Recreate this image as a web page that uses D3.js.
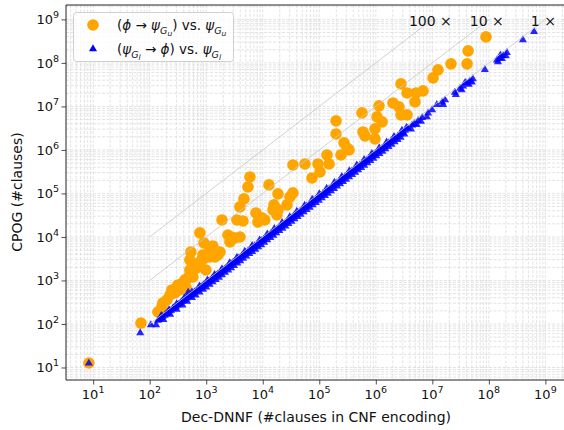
<!DOCTYPE html>
<html>
<head>
<meta charset="utf-8">
<script src="https://cdn.jsdelivr.net/npm/d3@7"></script>
<style>
body { margin: 0; background: #fff; }
svg { font-family: "DejaVu Sans", sans-serif; }
</style>
</head>
<body>
<script>
// [Dec-DNNF clauses, CPOG clauses]
const upperPoints = [
    [8.4, 12.7], [70, 105], [140, 189], [164, 246], [171, 304], [201, 357], [228, 464], [247, 605],
    [279, 516], [316, 789], [343, 605], [387, 877], [420, 1030], [437, 710], [474, 1140], [514, 1340],
    [582, 1200], [558, 1570], [514, 1740], [631, 2040], [684, 1940], [713, 2270], [773, 2660],
    [839, 2960], [514, 2960], [536, 4520], [874, 3860], [948, 3290], [989, 1740], [1030, 3860],
    [1160, 3470], [1310, 4290], [1430, 3470], [1610, 3860], [1750, 4520], [1160, 5590], [1310, 6210],
    [911, 7280], [773, 12400], [1900, 24600], [2420, 11100], [2740, 10000], [3220, 9490], [3950, 10000],
    [2630, 7670], [3490, 24600], [4470, 23300], [3950, 49000], [4650, 74800], [5470, 141000],
    [5930, 239000], [7590, 35600], [8230, 22100], [9680, 27400], [10900, 24600], [12900, 157000],
    [18600, 97500], [15800, 54500], [15200, 41800], [18600, 41800], [17800, 32100], [26800, 54500],
    [30300, 83200], [34200, 103000], [34200, 452000], [55800, 476000], [74300, 227000], [94800, 476000],
    [103000, 312000], [137000, 767000], [149000, 476000], [198000, 4.64e6], [198000, 2.33e6],
    [242000, 767000], [274000, 1.45e6], [309000, 1.11e6], [336000, 1.0e6], [570000, 7.1e6],
    [593000, 2.59e6], [644000, 2.1e6], [968000, 3.04e6], [968000, 1.79e6], [1.05e6, 5.74e6],
    [1.14e6, 1.03e7], [1.29e6, 4.41e6], [2.01e6, 1.2e7], [2.57e6, 9.75e6], [2.79e6, 6.38e6],
    [3.57e6, 6.38e6], [2.79e6, 3.29e7], [3.57e6, 2.04e7], [5.15e6, 2.04e7], [6.84e6, 2.27e7],
    [4.94e6, 1.27e7], [1.03e7, 4.52e7], [1.26e7, 6.9e7], [2.14e7, 9.5e7], [4.11e7, 9.5e7],
    [4.29e7, 1.89e8], [8.9e7, 3.96e8]
]

const lowerPoints = [
    [8.4, 12.5], [68, 62], [105, 95],
    [140, 120], [150, 128], [160, 140], [170, 150], [185, 158], [195, 170], [210, 180], [225, 200],
    [240, 205], [255, 225], [270, 240], [290, 250], [310, 270], [330, 285], [350, 305], [375, 330],
    [400, 345], [420, 370], [450, 390], [480, 530], [480, 420], [510, 440], [540, 470], [580, 500],
    [620, 540], [660, 570], [700, 610], [750, 650], [800, 690], [850, 740], [900, 780], [960, 830],
    [1030, 880], [1100, 950], [1180, 1000], [1250, 1080], [1330, 1150], [1420, 1220], [1500, 1300],
    [1600, 1380], [1700, 1450], [1800, 1550], [1950, 1650], [2100, 1800], [2250, 1950], [2400, 2050],
    [2600, 2200], [2800, 2400], [3000, 2600], [3200, 2750], [3450, 2950], [3700, 3200], [4000, 3400],
    [4300, 3700], [4600, 3900], [5000, 4300], [5400, 4600], [5800, 5000], [6200, 5300], [6700, 5700],
    [7200, 6200], [7800, 6600], [8400, 7200], [9000, 7700], [9600, 8200],
    [10400, 8800], [11200, 9500], [12000, 10300], [13000, 11000], [14000, 12000], [15000, 12800],
    [16500, 14000], [18000, 15300], [19500, 16500], [21000, 18000], [23000, 19500], [25000, 21000],
    [27000, 23000], [29000, 25000], [32000, 27000], [35000, 30000], [38000, 32000], [42000, 36000],
    [46000, 39000], [50000, 43000], [55000, 47000], [60000, 51000], [66000, 56000], [72000, 61000],
    [80000, 68000], [88000, 75000], [96000, 82000],
    [105000, 89000], [115000, 98000], [125000, 106000], [138000, 117000], [150000, 128000],
    [165000, 140000], [180000, 153000], [200000, 170000], [220000, 187000], [240000, 204000],
    [260000, 222000], [285000, 242000], [310000, 264000], [340000, 289000], [370000, 315000],
    [400000, 340000], [440000, 374000], [480000, 408000], [520000, 442000], [570000, 485000],
    [620000, 527000], [680000, 578000], [750000, 637000], [820000, 697000], [900000, 765000],
    [980000, 833000],
    [1.08e6, 0.92e6], [1.18e6, 1.0e6], [1.3e6, 1.1e6], [1.42e6, 1.2e6], [1.55e6, 1.32e6],
    [1.7e6, 1.45e6], [1.85e6, 1.57e6], [2.0e6, 1.7e6], [2.2e6, 1.87e6], [2.45e6, 2.08e6],
    [2.7e6, 2.3e6], [3.0e6, 2.5e6], [3.3e6, 2.8e6], [3.7e6, 3.1e6], [4.4e6, 3.7e6], [4.8e6, 4.0e6],
    [5.6e6, 4.7e6], [6.6e6, 5.5e6], [8.4e6, 7.0e6], [9.9e6, 8.3e6],
    [1.49e7, 1.25e7], [1.68e7, 1.4e7], [2.5e7, 2.1e7], [3.1e7, 2.6e7], [3.5e7, 2.9e7], [4.1e7, 3.4e7],
    [4.6e7, 3.8e7], [5.2e7, 4.3e7], [8.5e7, 7.0e7], [1.39e8, 1.15e8], [1.57e8, 1.3e8],
    [1.78e8, 1.47e8], [2.08e8, 1.72e8], [4.0e8, 3.38e8], [6.3e8, 5.2e8],
    // lower edge of the band
    [130, 95], [175, 125], [230, 165], [300, 215], [380, 270], [460, 330], [560, 400], [650, 460],
    [760, 540], [880, 620], [1000, 700], [1150, 810], [1300, 920], [1480, 1040], [1680, 1180],
    [1900, 1340], [2150, 1520], [2450, 1720], [2750, 1950], [3100, 2200], [3550, 2500], [4000, 2800],
    [4500, 3200], [5100, 3600], [5800, 4100], [6500, 4600], [7400, 5200], [8300, 5900], [9400, 6600],
    [10600, 7500], [12000, 8500], [13600, 9600], [15400, 10900], [17400, 12300], [19700, 13900],
    [22300, 15700], [25200, 17800], [28500, 20100], [32300, 22800], [36500, 25800], [41300, 29200],
    [46700, 33000], [52900, 37400], [59800, 42300], [67700, 47900], [76600, 54100], [86700, 61200],
    [98000, 69300], [111000, 78400], [126000, 88700], [142000, 100000], [161000, 114000],
    [182000, 129000], [206000, 146000], [233000, 165000], [263000, 186000], [298000, 211000],
    [337000, 238000], [381000, 270000], [431000, 305000], [488000, 345000], [552000, 390000],
    [625000, 442000], [707000, 500000], [800000, 565000], [905000, 640000], [1.02e6, 724000],
    [1.16e6, 819000], [1.31e6, 926000], [1.48e6, 1.05e6], [1.68e6, 1.19e6], [1.9e6, 1.34e6],
    [2.15e6, 1.52e6], [2.43e6, 1.72e6], [2.75e6, 1.94e6], [3.2e6, 2.3e6], [4.2e6, 3.0e6],
    [5.3e6, 3.8e6], [6.3e6, 4.5e6], [8.0e6, 5.7e6], [1.55e7, 1.1e7], [2.6e7, 1.85e7], [3.3e7, 2.4e7],
    [4.4e7, 3.2e7], [5.0e7, 3.6e7], [1.45e8, 1.05e8], [1.7e8, 1.25e8], [2.0e8, 1.45e8],
    // upper edge of the band
    [160, 155], [220, 212], [300, 290], [410, 400], [560, 545], [760, 740], [1050, 1020], [1400, 1360],
    [1900, 1850], [2600, 2520], [3500, 3400], [4800, 4650], [6500, 6300], [8800, 8500], [12000, 11600],
    [16000, 15500], [22000, 21300], [30000, 29000], [40000, 38800], [55000, 53000], [75000, 72500],
    [100000, 97000], [135000, 131000], [185000, 179000], [250000, 242000], [340000, 330000],
    [460000, 446000], [620000, 600000], [850000, 820000], [1.15e6, 1.11e6], [1.55e6, 1.5e6],
    [2.1e6, 2.03e6], [2.9e6, 2.8e6], [3.5e6, 3.3e6], [1.2e7, 1.1e7], [3.8e7, 3.5e7], [1.6e8, 1.5e8]
]

const ratios = [100, 10, 1]
const ratioLabels = ['100 ×', '10 ×', '1 ×']
const exponents = [1, 2, 3, 4, 5, 6, 7, 8, 9]

const W = 564, H = 430
const mLeft = 66, mRight = 568, mTop = 5, mBottom = 380

const svg = d3.select('body')
    .append('svg')
    .attr('width', W)
    .attr('height', H)

const x = d3.scaleLog()
    .domain([3.31, 2.51e9])
    .range([mLeft, mRight])

const y = d3.scaleLog()
    .domain([5.16, 2.14e9])
    .range([mBottom, mTop])

svg.append('defs').append('clipPath')
    .attr('id', 'plot')
    .append('rect')
    .attr('x', mLeft).attr('y', mTop)
    .attr('width', mRight - mLeft).attr('height', mBottom - mTop)

// minor + major values for grid and ticks
const minorX = [], minorY = []
for (let d = 0; d <= 9; d++) {
    for (let k = 1; k <= 9; k++) {
        const v = k * Math.pow(10, d)
        if (v >= x.domain()[0] && v <= x.domain()[1]) minorX.push(v)
        if (v >= y.domain()[0] && v <= y.domain()[1]) minorY.push(v)
    }
}
const majors = exponents.map(e => Math.pow(10, e))

const grid = svg.append('g').attr('clip-path', 'url(#plot)')
grid.selectAll('line.gx')
    .data(minorX)
    .enter()
    .append('line')
    .attr('x1', d => x(d)).attr('x2', d => x(d))
    .attr('y1', mTop).attr('y2', mBottom)
    .attr('stroke', '#dcdcdc')
    .attr('stroke-width', 0.8)
    .attr('stroke-dasharray', '3,1.5')
grid.selectAll('line.gy')
    .data(minorY)
    .enter()
    .append('line')
    .attr('y1', d => y(d)).attr('y2', d => y(d))
    .attr('x1', mLeft).attr('x2', mRight)
    .attr('stroke', '#dcdcdc')
    .attr('stroke-width', 0.8)
    .attr('stroke-dasharray', '3,1.5')

const plot = svg.append('g').attr('clip-path', 'url(#plot)')

plot.selectAll('circle')
    .data(upperPoints)
    .enter()
    .append('circle')
    .attr('cx', d => x(d[0]))
    .attr('cy', d => y(d[1]))
    .attr('r', 5.8)
    .attr('fill', '#ffa500')

const tri = d3.symbol().type(d3.symbolTriangle).size(28)
plot.selectAll('path.tri')
    .data(lowerPoints)
    .enter()
    .append('path')
    .attr('class', 'tri')
    .attr('d', tri)
    .attr('transform', d => `translate(${x(d[0])},${y(d[1])})`)
    .attr('fill', '#0000ff')
    .attr('fill-opacity', 0.85)

// ratio reference lines
plot.selectAll('line.ratio')
    .data(ratios)
    .enter()
    .append('line')
    .attr('x1', x(100))
    .attr('y1', d => y(100 * d))
    .attr('x2', d => x(1e9 / d))
    .attr('y2', y(1e9))
    .attr('stroke', '#c8c8c8')
    .attr('stroke-opacity', 0.85)
    .attr('stroke-width', 1)

svg.selectAll('text.ratio')
    .data(ratios)
    .enter()
    .append('text')
    .attr('x', d => x(1e9 / d) - 2)
    .attr('y', 26)
    .attr('text-anchor', 'middle')
    .attr('font-size', 14)
    .attr('fill', '#111')
    .text((d, i) => ratioLabels[i])

// axes
const xAxis = svg.append('g').attr('transform', `translate(0, ${mBottom})`)
xAxis.call(d3.axisBottom(x).tickValues(minorX).tickSize(2.5).tickFormat(''))
xAxis.call(d3.axisBottom(x).tickValues(majors).tickSize(4.5).tickFormat(''))
const yAxis = svg.append('g').attr('transform', `translate(${mLeft}, 0)`)
yAxis.call(d3.axisLeft(y).tickValues(minorY).tickSize(2.5).tickFormat(''))
yAxis.call(d3.axisLeft(y).tickValues(majors).tickSize(4.5).tickFormat(''))
svg.selectAll('.domain').remove()
svg.selectAll('.tick line').attr('stroke', '#222').attr('stroke-width', 0.8)

function powLabel(sel) {
    sel.append('tspan').text('10')
    sel.append('tspan')
        .attr('dy', -6)
        .attr('font-size', 9.5)
        .text(d => Math.round(Math.log10(d)))
}

svg.append('g').selectAll('text')
    .data(majors)
    .enter()
    .append('text')
    .attr('x', d => x(d))
    .attr('y', 399)
    .attr('text-anchor', 'middle')
    .attr('font-size', 13)
    .attr('fill', '#111')
    .call(powLabel)

svg.append('g').selectAll('text')
    .data(majors)
    .enter()
    .append('text')
    .attr('x', 59)
    .attr('y', d => y(d) + 5)
    .attr('text-anchor', 'end')
    .attr('font-size', 13)
    .attr('fill', '#111')
    .call(powLabel)

// frame
svg.append('path')
    .attr('d', `M${mRight},${mTop}H${mLeft}V${mBottom}H${mRight}`)
    .attr('fill', 'none')
    .attr('stroke', '#222')
    .attr('stroke-width', 1)

svg.append('text')
    .attr('x', 316)
    .attr('y', 422)
    .attr('text-anchor', 'middle')
    .attr('font-size', 14)
    .attr('fill', '#111')
    .text('Dec-DNNF (#clauses in CNF encoding)')

svg.append('text')
    .attr('transform', 'translate(22, 192) rotate(-90)')
    .attr('text-anchor', 'middle')
    .attr('font-size', 14)
    .attr('fill', '#111')
    .text('CPOG (#clauses)')

// legend
const legend = svg.append('g')
legend.append('rect')
    .attr('x', 73.5).attr('y', 12.5)
    .attr('width', 160).attr('height', 49)
    .attr('rx', 3)
    .attr('fill', '#fff')
    .attr('fill-opacity', 0.8)
    .attr('stroke', '#d0d0d0')

legend.append('circle')
    .attr('cx', 93).attr('cy', 25)
    .attr('r', 5.8)
    .attr('fill', '#ffa500')
legend.append('path')
    .attr('d', tri)
    .attr('transform', 'translate(93, 49)')
    .attr('fill', '#0000ff')

const sizes = [13.5, 9.5, 7.5]
const shifts = [0, 3.5, 6]
function mathText(parent, yPos, parts) {
    const t = parent.append('text')
        .attr('x', 117)
        .attr('y', yPos)
        .attr('font-size', 13.5)
        .attr('fill', '#111')
    let level = 0
    parts.forEach(([s, lvl, it]) => {
        t.append('tspan')
            .attr('dy', shifts[lvl] - shifts[level])
            .attr('font-size', sizes[lvl])
            .attr('font-style', it ? 'italic' : 'normal')
            .text(s)
        level = lvl
    })
}

mathText(legend, 30, [
    ['(', 0, false], ['ϕ', 0, true], [' → ', 0, false], ['ψ', 0, true], ['G', 1, true], ['u', 2, true],
    [')', 0, false], [' vs. ', 0, false], ['ψ', 0, true], ['G', 1, true], ['u', 2, true]
])
mathText(legend, 54, [
    ['(', 0, false], ['ψ', 0, true], ['G', 1, true], ['l', 2, true], [' → ', 0, false], ['ϕ', 0, true],
    [')', 0, false], [' vs. ', 0, false], ['ψ', 0, true], ['G', 1, true], ['l', 2, true]
])
</script>
</body>
</html>
